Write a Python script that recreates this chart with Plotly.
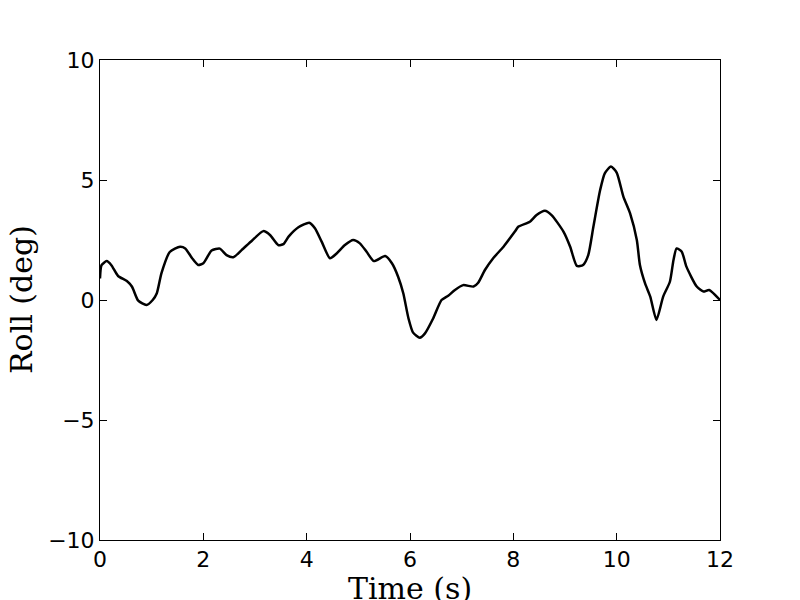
import plotly.graph_objects as go

time_s = [0.0, 0.03, 0.13, 0.22, 0.35, 0.52, 0.62, 0.74, 0.90, 1.02, 1.10, 1.19, 1.35, 1.55, 1.65, 1.78, 1.90, 2.0,
          2.16, 2.32, 2.45, 2.58, 2.74, 2.94, 3.16, 3.29, 3.45, 3.55, 3.65, 3.84, 4.05, 4.16, 4.29, 4.45,
          4.58, 4.74, 4.90, 5.03, 5.16, 5.30, 5.52, 5.65, 5.77, 5.87, 5.97, 6.06, 6.19, 6.29, 6.45,
          6.61, 6.74, 6.87, 7.03, 7.23, 7.32, 7.45, 7.61, 7.81, 8.03, 8.10, 8.32, 8.45, 8.61, 8.74,
          8.97, 9.10, 9.23, 9.35, 9.45, 9.55, 9.68, 9.77, 9.89, 10.0, 10.13, 10.26, 10.39, 10.45,
          10.55, 10.65, 10.77, 10.90, 11.03, 11.10, 11.16, 11.26, 11.35, 11.55, 11.68, 11.79, 12.0]
roll_deg = [0.9, 1.45, 1.62, 1.45, 1.0, 0.79, 0.55, -0.03, -0.21, 0.0, 0.28, 1.12, 2.0, 2.22, 2.15, 1.75, 1.46, 1.53,
            2.06, 2.14, 1.87, 1.78, 2.08, 2.47, 2.87, 2.71, 2.29, 2.33, 2.64, 3.03, 3.22, 2.99, 2.43, 1.74,
            1.94, 2.29, 2.5, 2.36, 2.01, 1.62, 1.83, 1.53, 0.97, 0.28, -0.76, -1.36, -1.57, -1.39, -0.76,
            0.0, 0.18, 0.42, 0.62, 0.56, 0.72, 1.25, 1.74, 2.22, 2.85, 3.06, 3.26, 3.54, 3.72, 3.54,
            2.85, 2.22, 1.42, 1.46, 1.87, 3.06, 4.58, 5.28, 5.56, 5.31, 4.31, 3.61, 2.5, 1.46,
            0.69, 0.14, -0.83, 0.14, 0.76, 1.67, 2.15, 2.01, 1.39, 0.56, 0.35, 0.42, 0.0]

x_ticks = [0, 2, 4, 6, 8, 10, 12]
y_ticks = [-10, -5, 0, 5, 10]
x_title = "Time (s)"
y_title = "Roll (deg)"

fig = go.Figure()
fig.add_trace(go.Scatter(x=time_s, y=roll_deg, mode="lines",
                         line=dict(color="black", width=2.5, shape="spline", smoothing=0.6),
                         showlegend=False))

axis_common = dict(showline=True, linecolor="black", linewidth=1, mirror="ticks",
                   ticks="inside", ticklen=7, tickcolor="black", tickwidth=1,
                   showgrid=False, zeroline=False, automargin=False,
                   tickfont=dict(family="DejaVu Sans", size=22, color="black"))

title_font = dict(family="DejaVu Serif", size=30, color="black")

fig.update_layout(
    width=792, height=592,
    margin=dict(l=92, r=80, t=52, b=60),
    paper_bgcolor="white", plot_bgcolor="white",
    xaxis=dict(range=[0, 12], tickvals=x_ticks, **axis_common),
    yaxis=dict(range=[-10, 10], tickvals=y_ticks, **axis_common),
    annotations=[
        dict(text=x_title, xref="paper", yref="paper", x=0.5, y=0, xanchor="center",
             yanchor="middle", yshift=-48, showarrow=False, font=title_font),
        dict(text=y_title, xref="paper", yref="paper", x=0, y=0.5, xanchor="center",
             yanchor="middle", xshift=-79, textangle=-90, showarrow=False, font=title_font),
    ],
)

fig.write_html("out.html")
